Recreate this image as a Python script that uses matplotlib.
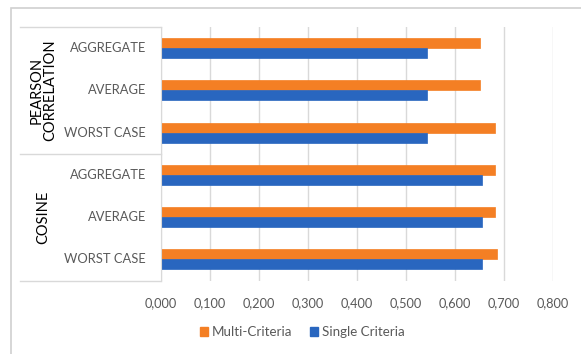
import matplotlib
matplotlib.use("Agg")
import matplotlib.pyplot as plt
from matplotlib.patches import Rectangle, Patch
from matplotlib.lines import Line2D

plt.rcParams['font.family'] = ['Lato', 'DejaVu Sans']

# data, top to bottom
groups = ['PEARSON\nCORRELATION', 'COSINE']
categories = ['AGGREGATE', 'AVERAGE', 'WORST CASE']
multi = [0.650, 0.650, 0.682, 0.682, 0.682, 0.686]
single = [0.542, 0.542, 0.542, 0.656, 0.656, 0.656]
xticks = [0.0, 0.1, 0.2, 0.3, 0.4, 0.5, 0.6, 0.7, 0.8]

orange = '#F47F24'
blue = '#2966BF'
grid = '#D9D9D9'
txt = '#595959'

W, H = 581, 354
fig = plt.figure(figsize=(W / 100, H / 100), dpi=100)

# outer chart frame (extends past bottom/right)
fig.patches.append(Rectangle((10.5 / W, -0.1), 2, 1 - 8 / H + 0.1,
                             transform=fig.transFigure, fill=False,
                             edgecolor='#D0D0D0', lw=1.2))

x0, x1 = 161 / W, 553 / W
y_top, y_bot = 1 - 27 / H, 1 - 280.5 / H
ax = fig.add_axes([x0, y_bot, x1 - x0, y_top - y_bot])

n = len(multi)
pos = [n - 1 - i for i in range(n)]
h = 0.235
ax.barh([p + h / 2 for p in pos], multi, height=h, color=orange, edgecolor=orange, lw=0.5)
ax.barh([p - h / 2 for p in pos], single, height=h, color=blue, edgecolor=blue, lw=0.5)

ax.set_xlim(0, 0.8)
ax.set_ylim(-0.5, n - 0.5)
ax.set_xticks(xticks)
ax.set_xticklabels([('%.3f' % v).replace('.', ',') for v in xticks], color=txt, fontsize=9.2)
ax.tick_params(axis='x', length=0, pad=12)
ax.set_yticks([])
ax.xaxis.grid(True, color=grid, lw=1)
ax.set_axisbelow(True)
for s in ['top', 'right', 'bottom']:
    ax.spines[s].set_visible(False)
ax.spines['left'].set_color(grid)

# category labels
labels = categories * len(groups)
for p, lab in zip(pos, labels):
    ax.text(-0.038, p, lab, ha='right', va='center', color=txt, fontsize=9.3,
            transform=ax.get_yaxis_transform())

# multi-level box lines
lx0 = 20 / W
for yy in [27, 154, 280.5]:
    fig.add_artist(Line2D([lx0, x0], [1 - yy / H, 1 - yy / H], color=grid, lw=1,
                          transform=fig.transFigure))

ax.text(-0.30, 4, groups[0], rotation=90, ha='center', va='center', fontsize=10.5,
        color='black', transform=ax.get_yaxis_transform(), linespacing=0.95)
ax.text(-0.30, 1, groups[1], rotation=90, ha='center', va='center', fontsize=10.5,
        color='black', transform=ax.get_yaxis_transform())

handles = [Patch(color=orange, label='Multi-Criteria'), Patch(color=blue, label='Single Criteria')]
leg = fig.legend(handles=handles, loc='center', bbox_to_anchor=(302 / W, 1 - 332 / H), ncol=2,
                 frameon=False, fontsize=9.6, handlelength=0.6, handleheight=0.6,
                 handletextpad=0.3, columnspacing=1.3)
for t in leg.get_texts():
    t.set_color(txt)

fig.savefig('out.png', dpi=100)
